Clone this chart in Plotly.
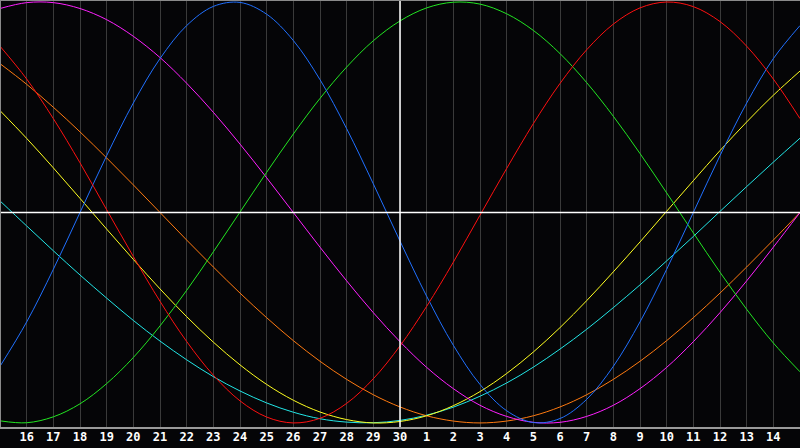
import plotly.graph_objects as go

# Day labels along the x axis (day 15 at both ends is unlabeled)
days = [15, 16, 17, 18, 19, 20, 21, 22, 23, 24, 25, 26, 27, 28, 29, 30,
        1, 2, 3, 4, 5, 6, 7, 8, 9, 10, 11, 12, 13, 14, 15]
today_index = 15  # day 30

red = [0.790, 0.634, 0.446, 0.236, 0.013, -0.209, -0.422, -0.613, -0.773, -0.895, -0.972, -1.000, -0.978, -0.907, -0.790, -0.634,
       -0.446, -0.236, -0.013, 0.209, 0.422, 0.613, 0.773, 0.895, 0.972, 1.000, 0.978, 0.907, 0.790, 0.634, 0.446]
green = [-0.990, -0.999, -0.971, -0.909, -0.813, -0.689, -0.539, -0.370, -0.187, 0.002, 0.191, 0.373, 0.542, 0.691, 0.816, 0.910,
         0.972, 0.999, 0.990, 0.944, 0.865, 0.755, 0.617, 0.457, 0.280, 0.093, -0.097, -0.284, -0.460, -0.620, -0.757]
blue = [-0.731, -0.520, -0.270, 0.000, 0.270, 0.520, 0.731, 0.888, 0.979, 0.998, 0.942, 0.817, 0.631, 0.398, 0.136, -0.136,
        -0.398, -0.631, -0.817, -0.942, -0.998, -0.979, -0.888, -0.731, -0.520, -0.270, 0.000, 0.270, 0.520, 0.731, 0.888]
magenta = [0.969, 0.997, 0.997, 0.969, 0.916, 0.837, 0.736, 0.614, 0.476, 0.325, 0.165, 0.000, -0.165, -0.325, -0.476, -0.614,
           -0.736, -0.837, -0.916, -0.969, -0.997, -0.997, -0.969, -0.916, -0.837, -0.736, -0.614, -0.476, -0.325, -0.165, 0.000]
yellow = [0.484, 0.352, 0.212, 0.067, -0.079, -0.223, -0.363, -0.495, -0.616, -0.724, -0.817, -0.892, -0.948, -0.984, -1.000, -0.993,
          -0.966, -0.918, -0.851, -0.765, -0.663, -0.547, -0.419, -0.282, -0.140, 0.006, 0.151, 0.294, 0.430, 0.557, 0.672]
orange = [0.707, 0.609, 0.500, 0.383, 0.259, 0.131, 0.000, -0.131, -0.259, -0.383, -0.500, -0.609, -0.707, -0.793, -0.866, -0.924,
          -0.966, -0.991, -1.000, -0.991, -0.966, -0.924, -0.866, -0.793, -0.707, -0.609, -0.500, -0.383, -0.259, -0.131, 0.000]
cyan = [0.055, -0.064, -0.182, -0.297, -0.407, -0.513, -0.611, -0.700, -0.780, -0.848, -0.905, -0.949, -0.980, -0.996, -0.999, -0.988,
        -0.963, -0.925, -0.873, -0.810, -0.735, -0.649, -0.555, -0.452, -0.344, -0.230, -0.114, 0.005, 0.123, 0.239, 0.353]

series = [
    ("cyan", cyan, "#22e6e6"),
    ("orange", orange, "#ff7a10"),
    ("yellow", yellow, "#ffff20"),
    ("magenta", magenta, "#ff20ff"),
    ("green", green, "#22e622"),
    ("blue", blue, "#2070ff"),
    ("red", red, "#ff1010"),
]

x = list(range(len(days)))
fig = go.Figure()
for name, vals, color in series:
    fig.add_trace(go.Scatter(x=x, y=vals, mode="lines", name=name,
                             line=dict(color=color, width=1, shape="spline", smoothing=1.0),
                             hoverinfo="skip"))

# today marker and zero line
fig.add_shape(type="line", xref="x", yref="paper", x0=today_index, x1=today_index, y0=0, y1=1,
              line=dict(color="white", width=1.5), layer="above")
fig.add_shape(type="line", xref="paper", yref="y", x0=0, x1=1, y0=0, y1=0,
              line=dict(color="white", width=1.5), layer="above")
# frame
fig.add_shape(type="line", xref="paper", yref="paper", x0=0, x1=1, y0=1, y1=1,
              line=dict(color="#8a8a8a", width=2), layer="above")
fig.add_shape(type="line", xref="paper", yref="paper", x0=0, x1=0, y0=0, y1=1,
              line=dict(color="#8a8a8a", width=2), layer="above")
fig.add_shape(type="line", xref="paper", yref="paper", x0=0, x1=1, y0=0, y1=0,
              line=dict(color="#9a9a9a", width=2), layer="above")

tick_x = x[1:-1]
tick_t = ["<b>%d</b>" % d for d in days[1:-1]]

fig.update_layout(
    width=800, height=448,
    margin=dict(l=0, r=0, t=0, b=20),
    paper_bgcolor="#050507",
    plot_bgcolor="#050507",
    showlegend=False,
    xaxis=dict(range=[0, 30], tickmode="array", tickvals=tick_x, ticktext=tick_t,
               showgrid=True, gridcolor="#3a3a3a", gridwidth=1, zeroline=False,
               ticks="", tickfont=dict(family="DejaVu Sans Mono", size=12, color="white"),
               showline=False, fixedrange=True),
    yaxis=dict(range=[-1.024, 1.0095], showgrid=False, zeroline=False, showticklabels=False,
               showline=False, fixedrange=True),
)

fig.write_html("out.html", config={"displayModeBar": False},
               post_script="document.body.style.margin='0';document.body.style.overflow='hidden';document.body.style.background='#050507';")
